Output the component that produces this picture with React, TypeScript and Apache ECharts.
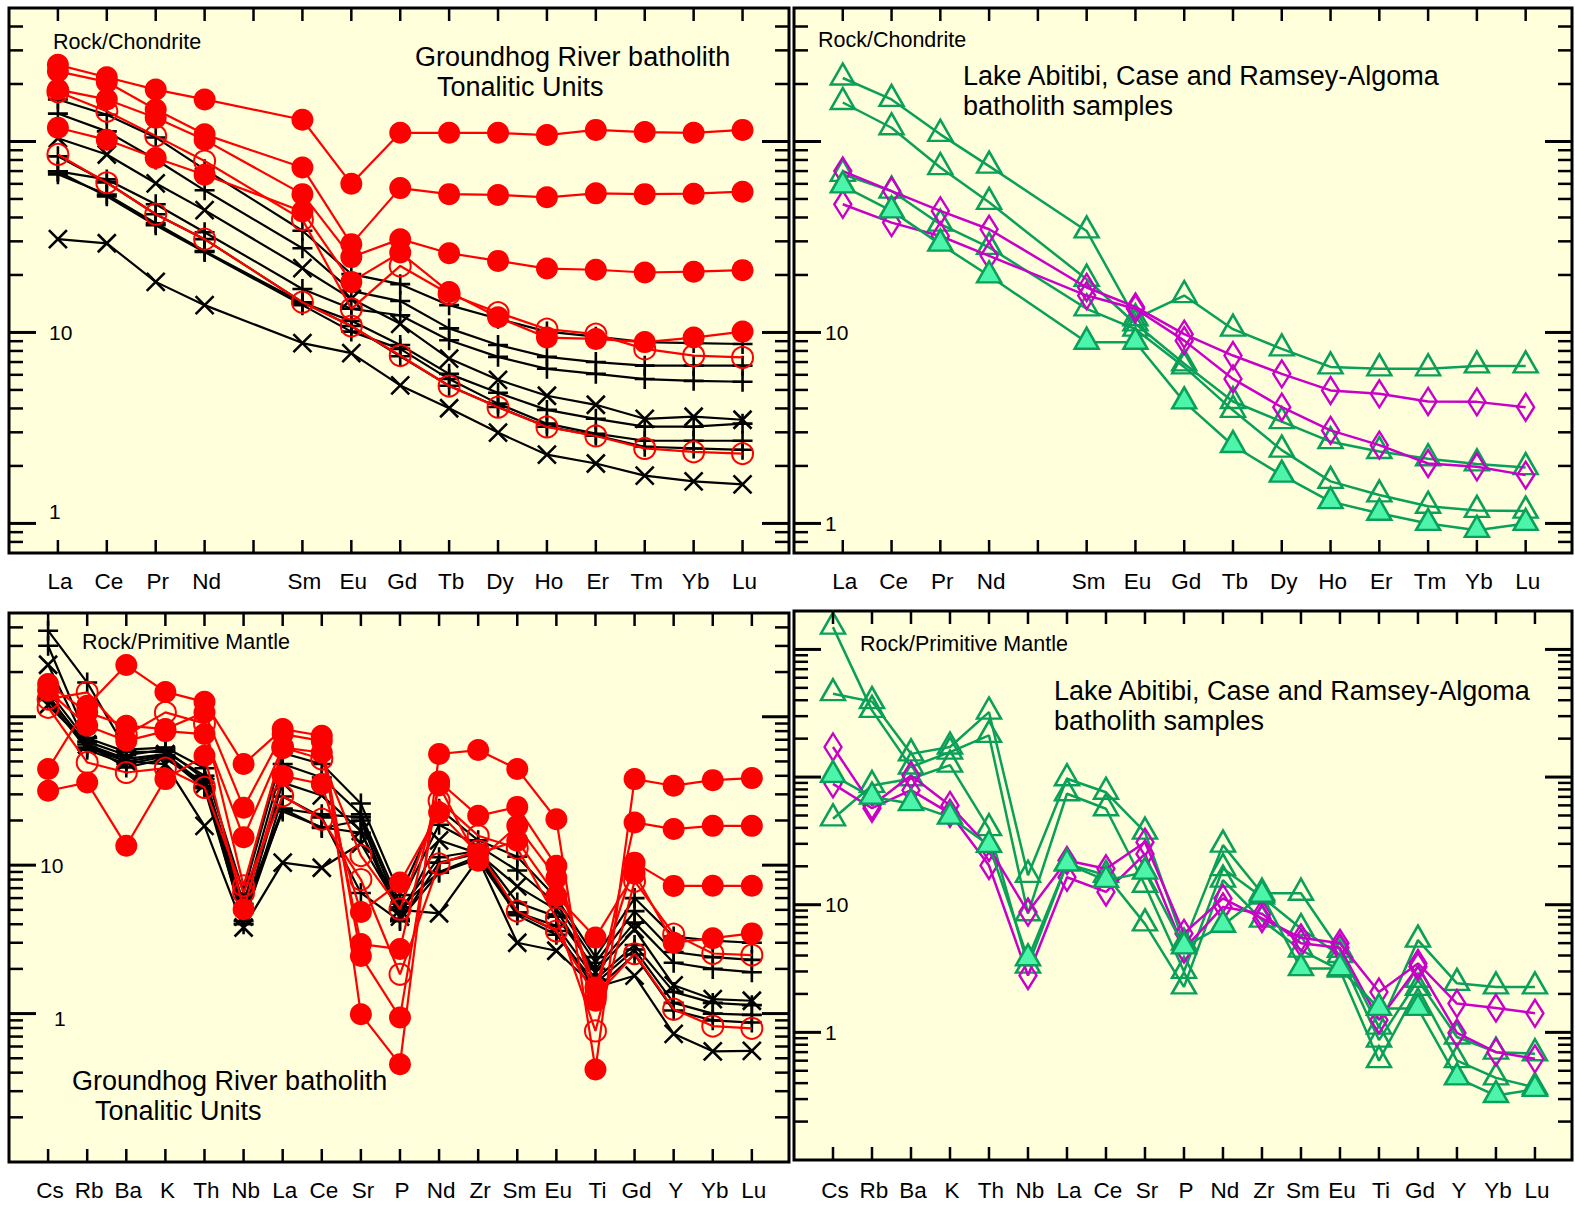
import React, { useEffect, useRef } from 'react';
import * as echarts from 'echarts';

// ---- axis categories -------------------------------------------------------
// REE slots (slot 4 is the empty Pm position)
const reeTicks = ['La', 'Ce', 'Pr', 'Nd', '', 'Sm', 'Eu', 'Gd', 'Tb', 'Dy', 'Ho', 'Er', 'Tm', 'Yb', 'Lu'];
const reeSlots = [0, 1, 2, 3, 5, 6, 7, 8, 9, 10, 11, 12, 13, 14];
const spiderTicks = ['Cs', 'Rb', 'Ba', 'K', 'Th', 'Nb', 'La', 'Ce', 'Sr', 'P', 'Nd', 'Zr', 'Sm', 'Eu', 'Ti', 'Gd', 'Y', 'Yb', 'Lu'];
const spiderSlots = spiderTicks.map((_, i) => i);

// ---- Groundhog River batholith, Rock/Chondrite (La..Lu without Pm) ----------
const grChFilledA = [252, 217, 187, 166, 130, 60, 111, 111, 111, 108, 115, 112, 111, 115];
const grChFilledB = [233, 205, 147, 109, 73, 29, 57, 53, 52.5, 51, 53.5, 53, 53.3, 54.6];
const grChFilledC = [187, 166, 133, 102, 53, 24.8, 30.8, 26, 23.7, 21.6, 21.3, 20.6, 20.8, 21.2];
const grChFilledD = [118, 102, 82, 67, 43, 18.4, 26.2, 16.3, 12, 9.4, 9.25, 8.9, 9.4, 10.1];
const grChOpenA = [182, 144, 107, 79, 39, 13.3, 22.3, 15.9, 12.7, 10.4, 9.8, 8.2, 7.57, 7.4];
const grChOpenB = [85.5, 60.8, 41.6, 30.8, 14.4, 10.8, 7.57, 5.24, 4.06, 3.2, 2.87, 2.47, 2.37, 2.32];
const grChPlus1 = [166, 138, 105, 71.5, 34.1, 20.2, 17.9, 13.9, 11.8, 10.1, 9.5, 8.9, 8.8, 8.7];
const grChPlus2 = [140, 113, 80.5, 55.5, 27.6, 16.5, 14.6, 10.5, 8.6, 7.45, 7.0, 6.7, 6.7, 6.7];
const grChPlus3 = [69.7, 63.3, 46.9, 33.5, 16.9, 13.3, 12.3, 9.1, 7.45, 6.45, 6.07, 5.7, 5.58, 5.52];
const grChCross1 = [104, 85.5, 60.4, 43.7, 21.7, 15, 11.1, 7.3, 5.65, 4.66, 4.18, 3.53, 3.62, 3.49];
const grChPlus4 = [67.3, 52.8, 37.3, 26.7, 14.3, 11.5, 8.6, 6.07, 4.83, 3.93, 3.53, 3.21, 3.21, 3.33];
const grChPlus5 = [69.7, 51.6, 36.4, 26.4, 13.9, 10.1, 8.2, 5.7, 4.24, 3.33, 2.95, 2.71, 2.71, 2.71];
const grChPlus6 = [83.6, 61.1, 41.6, 30.8, 14.4, 10.8, 7.5, 5.26, 4.07, 3.21, 2.88, 2.52, 2.47, 2.43];
const grChCross2 = [30.8, 29.3, 18.4, 13.9, 8.8, 7.8, 5.28, 4.01, 2.99, 2.29, 2.06, 1.78, 1.66, 1.6];

// ---- Lake Abitibi / Case / Ramsey-Algoma, Rock/Chondrite ---------------------
const laChOpenA = [215, 166, 109, 74.3, 34, 11.8, 15.6, 10.4, 8.2, 6.6, 6.45, 6.45, 6.68, 6.68];
const laChOpenB = [160, 118, 73, 48, 19, 11.1, 6.85, 4.35, 3.41, 2.68, 2.38, 2.18, 2.05, 1.96];
const laChOpenC = [67.3, 55, 36.9, 27.9, 13.3, 10.4, 6.6, 3.91, 2.42, 1.66, 1.41, 1.23, 1.17, 1.16];
const laChFilled = [58.5, 43.3, 29, 19.8, 8.89, 8.89, 4.33, 2.56, 1.79, 1.3, 1.13, 1.0, 0.92, 1.0];
const laChDiamondA = [70, 55, 43.3, 34.7, 17.2, 13.6, 9.8, 7.57, 6.07, 4.97, 4.77, 4.35, 4.33, 4.06];
const laChDiamondB = [46.9, 37.6, 32, 25.2, 15.6, 13.3, 9.06, 5.71, 4.06, 3.07, 2.57, 2.06, 1.98, 1.79];

// ---- Groundhog River batholith, Rock/Primitive Mantle (Cs..Lu) --------------
const grPmFilledA = [44.4, 118.6, 223, 147, 126, 48, 82.6, 74.5, 0.99, 0.455, 56.1, 59.6, 44.4, 20.4, 0.42, 38, 34.3, 37.4, 38.6];
const grPmFilledB = [166, 107, 87, 82.6, 107, 24.4, 76.4, 68.7, 2.44, 0.94, 36.6, 21.5, 24.7, 9.9, 1.22, 19.4, 17.5, 18.4, 18.4];
const grPmFilledC = [150, 87, 68.8, 80, 76.4, 15.4, 62, 57.4, 2.94, 2.72, 34.4, 10.7, 18.4, 8.2, 1.5, 10.4, 7.25, 7.26, 7.26];
const grPmFilledD = [31.7, 36, 13.5, 38, 54.6, 5.05, 40, 35.2, 4.84, 7.64, 22.6, 12, 14.6, 6.2, 3.25, 8.75, 3.0, 3.22, 3.47];
const grPmOpenA = [131.5, 146, 75, 107, 90, 7.25, 62, 51.9, 11.6, 5.05, 27.2, 15.8, 13, 4.4, 0.764, 7.8, 3.43, 2.54, 2.48];
const grPmOpenB = [115.6, 49.2, 42.1, 45, 33.4, 6.53, 29.3, 20.4, 8, 1.84, 10.2, 12.5, 4.9, 3.6, 1.3, 2.53, 1.07, 0.824, 0.796];
const grPmPlus1 = [380, 170, 60, 62, 45, 6.5, 57, 48, 26, 6.3, 24, 14.7, 11.4, 6.0, 2.4, 6.0, 3.3, 3.1, 3.0];
const grPmPlus2 = [301, 72, 58, 58, 40, 5.5, 48, 39, 22, 5.5, 18.7, 13.5, 9.2, 5.5, 2.2, 4.9, 2.6, 2.4, 2.3];
const grPmPlus3 = [150, 68, 55, 60, 38, 5.0, 24, 22, 21, 5.0, 11.3, 12.5, 5.6, 4.5, 2.0, 4.1, 2.2, 2.0, 1.9];
const grPmCross1 = [224, 65, 52, 56, 35, 4.5, 36, 29.5, 17, 4.5, 14.7, 12, 7.2, 5.0, 1.9, 3.7, 1.55, 1.25, 1.22];
const grPmPlus4 = [140, 62, 50, 55, 34, 4.8, 23, 18, 16.5, 5.2, 9.0, 11.5, 4.8, 3.9, 1.7, 2.9, 1.4, 1.18, 1.14];
const grPmPlus5 = [130, 60, 48, 54, 33, 4.2, 24, 17.8, 20, 4.3, 8.9, 11, 4.6, 3.4, 1.6, 2.7, 1.18, 1.0, 0.98];
const grPmPlus6 = [135, 65, 45.5, 52, 36, 4.0, 29, 21, 6.5, 4.2, 10.4, 12, 4.8, 3.6, 1.45, 2.5, 1.05, 0.9, 0.87];
const grPmCross2 = [120, 65, 50, 48, 18.4, 3.8, 10.4, 9.6, 14, 5.0, 4.74, 11, 3.0, 2.65, 1.5, 1.8, 0.73, 0.557, 0.56];

// ---- Lake Abitibi / Case / Ramsey-Algoma, Rock/Primitive Mantle --------------
const laPmOpenA = [450, 390, 152, 172, 323, 17, 97, 76, 37, 5.0, 29.3, 12.3, 12.3, 4.4, 1.1, 5.28, 2.42, 2.27, 2.27];
const laPmOpenB = [1496, 333, 120, 157, 212, 8.5, 74, 56.5, 14.2, 3.0, 19.2, 11.5, 6.5, 4.0, 0.87, 2.56, 0.92, 0.7, 0.68];
const laPmOpenC = [47.1, 86, 97, 124, 39.4, 3.3, 20.9, 17, 7.08, 2.27, 15.6, 7.57, 4.41, 3.07, 0.6, 2.21, 0.6, 0.44, 0.37];
const laPmFilled = [103, 69.7, 62, 48.5, 29.2, 3.77, 20.9, 15.5, 18, 4.68, 6.9, 11.9, 3.16, 3.16, 1.54, 1.54, 0.44, 0.32, 0.357];
const laPmDiamondA = [172, 60, 103, 60, 28, 8.75, 22.2, 19.1, 30.9, 5.96, 11.2, 7.8, 5.5, 4.98, 2.07, 3.47, 1.68, 1.55, 1.41];
const laPmDiamondB = [88.5, 57, 79, 52, 20.3, 2.79, 16.4, 12.6, 25, 4.5, 9.6, 8.5, 5.0, 4.6, 1.25, 3.27, 0.99, 0.7, 0.62];

// ---- look -------------------------------------------------------------------
const PAPER = '#FFFFDC';
const RED = '#FF0000';
const GREEN = '#0AA05A';
const GREEN_FILL = '#4CF5AA';
const MAGENTA = '#C800C8';
const FONT = '"Liberation Sans", Arial, sans-serif';

const PLUS = 'path://M0,-10L0,10M-10,0L10,0';
const CROSS = 'path://M-10,-10L10,10M-10,10L10,-10';

type Look = {
  symbol: string;
  size: number | number[];
  offset?: number[];
  line: string;
  width: number;
  fill: string;
  stroke: string;
  bw: number;
  z: number;
};

const plusLook: Look = { symbol: PLUS, size: 20, line: '#000', width: 2.2, fill: '#000', stroke: '#000', bw: 2.6, z: 2 };
const crossLook: Look = { symbol: CROSS, size: 18, line: '#000', width: 2.2, fill: '#000', stroke: '#000', bw: 2.6, z: 2 };
const redOpenLook: Look = { symbol: 'circle', size: 21, line: RED, width: 2.2, fill: 'rgba(0,0,0,0)', stroke: RED, bw: 2, z: 3 };
const redDotLook: Look = { symbol: 'circle', size: 22, line: RED, width: 2.2, fill: RED, stroke: RED, bw: 0, z: 4 };
const triOpenLook: Look = { symbol: 'triangle', size: [24, 21], offset: [0, -4], line: GREEN, width: 2.5, fill: 'rgba(0,0,0,0)', stroke: GREEN, bw: 2.5, z: 3 };
const triFilledLook: Look = { symbol: 'triangle', size: [24, 21], offset: [0, -4], line: GREEN, width: 2.5, fill: GREEN_FILL, stroke: GREEN, bw: 2.5, z: 5 };
const diamondLook: Look = { symbol: 'diamond', size: [17, 27], line: MAGENTA, width: 2.5, fill: 'rgba(0,0,0,0)', stroke: MAGENTA, bw: 2.5, z: 4 };

function lineSeries(grid: number, slots: number[], vals: number[], look: Look) {
  return {
    type: 'line',
    xAxisIndex: grid,
    yAxisIndex: grid,
    data: vals.map((v, i) => [slots[i], v]),
    symbol: look.symbol,
    symbolSize: look.size,
    symbolOffset: look.offset || [0, 0],
    showAllSymbol: true,
    clip: false,
    silent: true,
    z: look.z,
    lineStyle: { color: look.line, width: look.width },
    itemStyle: { color: look.fill, borderColor: look.stroke, borderWidth: look.bw, opacity: 1 },
    emphasis: { disabled: true },
  };
}

// inward tick marks on all four sides of a panel
function tickSeries(grid: number, nSlots: number, yMin: number, yMax: number) {
  const data: number[][] = [];
  for (let i = 0; i < nSlots; i++) data.push([i, 1, 0, 0]);
  for (let e = Math.floor(Math.log10(yMin)); e <= Math.ceil(Math.log10(yMax)); e++) {
    for (let m = 1; m <= 9; m++) {
      const v = m * Math.pow(10, e);
      if (v > yMin * 1.0001 && v < yMax * 0.9999) data.push([0, v, 1, m === 1 ? 1 : 0]);
    }
  }
  return {
    type: 'custom',
    xAxisIndex: grid,
    yAxisIndex: grid,
    data,
    clip: false,
    silent: true,
    z: 6,
    renderItem: (params: any, api: any) => {
      const cs = params.coordSys;
      const kind = api.value(2);
      if (kind === 0) {
        const px = api.coord([api.value(0), 1])[0];
        const st = { stroke: '#000', lineWidth: 2.5 };
        return {
          type: 'group',
          children: [
            { type: 'line', shape: { x1: px, y1: cs.y, x2: px, y2: cs.y + 13 }, style: st },
            { type: 'line', shape: { x1: px, y1: cs.y + cs.height - 13, x2: px, y2: cs.y + cs.height }, style: st },
          ],
        };
      }
      const py = api.coord([0, api.value(1)])[1];
      const major = api.value(3) === 1;
      const len = major ? 27 : 14;
      const st = { stroke: '#000', lineWidth: major ? 3 : 2.5 };
      return {
        type: 'group',
        children: [
          { type: 'line', shape: { x1: cs.x, y1: py, x2: cs.x + len, y2: py }, style: st },
          { type: 'line', shape: { x1: cs.x + cs.width - len, y1: py, x2: cs.x + cs.width, y2: py }, style: st },
        ],
      };
    },
  };
}

const near = (a: number, b: number) => Math.abs(a - b) < 1e-6 * b;

function xAxisFor(grid: number, labels: string[], margin: number) {
  return {
    type: 'value',
    gridIndex: grid,
    min: -1,
    max: labels.length - 0.05,
    interval: 1,
    axisLine: { show: false },
    axisTick: { show: false },
    splitLine: { show: false },
    axisLabel: {
      margin,
      fontSize: 22.5,
      fontFamily: FONT,
      color: '#000',
      padding: [0, 0, 0, 4],
      formatter: (v: number) => {
        const i = Math.round(v);
        return Math.abs(v - i) < 1e-6 && i >= 0 && i < labels.length ? labels[i] : '';
      },
    },
  };
}

function yAxisFor(grid: number, min: number, max: number, margin: number, oneLabel: string, rich: any) {
  return {
    type: 'log',
    logBase: 10,
    gridIndex: grid,
    min,
    max,
    axisLine: { show: false },
    axisTick: { show: false },
    splitLine: { show: false },
    minorTick: { show: false },
    axisLabel: {
      inside: true,
      margin,
      fontSize: 21,
      fontFamily: FONT,
      color: '#000',
      rich,
      formatter: (v: number) => (near(v, 10) ? '10' : near(v, 1) ? oneLabel : ''),
    },
  };
}

function note(text: string, x: number, y: number, size: number) {
  return {
    type: 'text',
    x,
    y,
    z: 20,
    silent: true,
    style: { text, fill: '#000', fontSize: size, fontFamily: FONT, verticalAlign: 'middle', align: 'left' },
  };
}

export default function App() {
  const ref = useRef<HTMLDivElement>(null);

  useEffect(() => {
    if (!ref.current) return;
    const chart = echarts.init(ref.current, null, { renderer: 'svg' });

    const gridBase = { show: true, backgroundColor: PAPER, borderColor: '#000', borderWidth: 3, containLabel: false };
    const grids = [
      { ...gridBase, left: 9, top: 8, width: 780, height: 545 },
      { ...gridBase, left: 794, top: 8, width: 780, height: 545 },
      { ...gridBase, left: 9, top: 613, width: 780, height: 549 },
      { ...gridBase, left: 794, top: 611, width: 780, height: 549 },
    ];

    const series: any[] = [
      tickSeries(0, reeTicks.length, 0.7, 500),
      tickSeries(1, reeTicks.length, 0.7, 500),
      tickSeries(2, spiderTicks.length, 0.1, 500),
      tickSeries(3, spiderTicks.length, 0.1, 2000),

      // Groundhog River, chondrite
      lineSeries(0, reeSlots, grChPlus1, plusLook),
      lineSeries(0, reeSlots, grChPlus2, plusLook),
      lineSeries(0, reeSlots, grChPlus3, plusLook),
      lineSeries(0, reeSlots, grChCross1, crossLook),
      lineSeries(0, reeSlots, grChPlus4, plusLook),
      lineSeries(0, reeSlots, grChPlus5, plusLook),
      lineSeries(0, reeSlots, grChPlus6, plusLook),
      lineSeries(0, reeSlots, grChCross2, crossLook),
      lineSeries(0, reeSlots, grChOpenA, redOpenLook),
      lineSeries(0, reeSlots, grChOpenB, redOpenLook),
      lineSeries(0, reeSlots, grChFilledA, redDotLook),
      lineSeries(0, reeSlots, grChFilledB, redDotLook),
      lineSeries(0, reeSlots, grChFilledC, redDotLook),
      lineSeries(0, reeSlots, grChFilledD, redDotLook),

      // Lake Abitibi etc., chondrite
      lineSeries(1, reeSlots, laChOpenA, triOpenLook),
      lineSeries(1, reeSlots, laChOpenB, triOpenLook),
      lineSeries(1, reeSlots, laChOpenC, triOpenLook),
      lineSeries(1, reeSlots, laChDiamondA, diamondLook),
      lineSeries(1, reeSlots, laChDiamondB, diamondLook),
      lineSeries(1, reeSlots, laChFilled, triFilledLook),

      // Groundhog River, primitive mantle
      lineSeries(2, spiderSlots, grPmPlus1, plusLook),
      lineSeries(2, spiderSlots, grPmPlus2, plusLook),
      lineSeries(2, spiderSlots, grPmPlus3, plusLook),
      lineSeries(2, spiderSlots, grPmCross1, crossLook),
      lineSeries(2, spiderSlots, grPmPlus4, plusLook),
      lineSeries(2, spiderSlots, grPmPlus5, plusLook),
      lineSeries(2, spiderSlots, grPmPlus6, plusLook),
      lineSeries(2, spiderSlots, grPmCross2, crossLook),
      lineSeries(2, spiderSlots, grPmOpenA, redOpenLook),
      lineSeries(2, spiderSlots, grPmOpenB, redOpenLook),
      lineSeries(2, spiderSlots, grPmFilledA, redDotLook),
      lineSeries(2, spiderSlots, grPmFilledB, redDotLook),
      lineSeries(2, spiderSlots, grPmFilledC, redDotLook),
      lineSeries(2, spiderSlots, grPmFilledD, redDotLook),

      // Lake Abitibi etc., primitive mantle
      lineSeries(3, spiderSlots, laPmOpenA, triOpenLook),
      lineSeries(3, spiderSlots, laPmOpenB, triOpenLook),
      lineSeries(3, spiderSlots, laPmOpenC, triOpenLook),
      lineSeries(3, spiderSlots, laPmDiamondA, diamondLook),
      lineSeries(3, spiderSlots, laPmDiamondB, diamondLook),
      lineSeries(3, spiderSlots, laPmFilled, triFilledLook),
    ];

    chart.setOption({
      animation: false,
      backgroundColor: '#FFFFFF',
      grid: grids,
      xAxis: [
        xAxisFor(0, reeTicks, 17),
        xAxisFor(1, reeTicks, 17),
        xAxisFor(2, spiderTicks, 17),
        xAxisFor(3, spiderTicks, 19),
      ],
      yAxis: [
        yAxisFor(0, 0.7, 500, 40, '{up|1}', { up: { fontSize: 21, fontFamily: FONT, color: '#000', padding: [0, 0, 24, 0] } }),
        yAxisFor(1, 0.7, 500, 31, '1', {}),
        yAxisFor(2, 0.1, 500, 31, '{sh|1}', { sh: { fontSize: 21, fontFamily: FONT, color: '#000', padding: [10, 0, 0, 14] } }),
        yAxisFor(3, 0.1, 2000, 31, '1', {}),
      ],
      graphic: [
        note('Rock/Chondrite', 53, 42, 21.5),
        note('Groundhog River batholith', 415, 57, 27),
        note('Tonalitic Units', 437, 87, 27),
        note('Rock/Chondrite', 818, 40, 21.5),
        note('Lake Abitibi, Case and Ramsey-Algoma', 963, 76, 27),
        note('batholith samples', 963, 106, 27),
        note('Rock/Primitive Mantle', 82, 642, 21.5),
        note('Groundhog River batholith', 72, 1081, 27),
        note('Tonalitic Units', 95, 1111, 27),
        note('Rock/Primitive Mantle', 860, 644, 21.5),
        note('Lake Abitibi, Case and Ramsey-Algoma', 1054, 691, 27),
        note('batholith samples', 1054, 721, 27),
      ],
      series,
    });

    return () => chart.dispose();
  }, []);

  return (
    <div
      ref={ref}
      style={{ position: 'absolute', left: 0, top: 0, width: 1575, height: 1206, background: '#fff' }}
    />
  );
}
